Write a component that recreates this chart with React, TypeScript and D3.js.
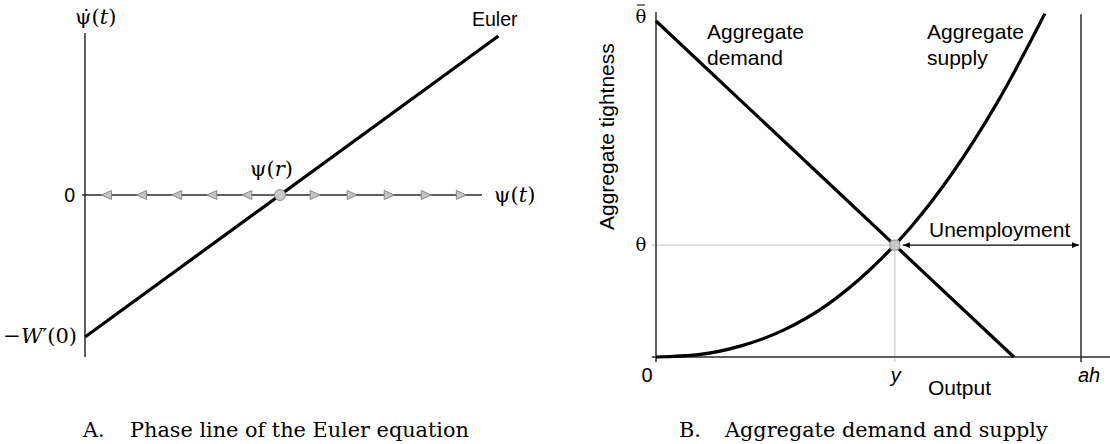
import React from "react";
import * as d3 from "d3";

// ---------- Panel A: phase line of the Euler equation ----------
// Euler line endpoints (ψ, ψ̇), in units where ψ(r) = 1 and W'(0) = 1
const eulerPsi = [0, 2.12];
const eulerPsiDot = [-1, 1.12];
const psiR = 1;
// Positions of the flow arrows along the phase line
const leftArrows = [0.11, 0.29, 0.47, 0.65, 0.83];
const rightArrows = [1.18, 1.37, 1.56, 1.75, 1.93];

// ---------- Panel B: aggregate demand and supply ----------
const capacity = 1; // ah
const outputEq = 0.562; // y
const tightEq = 0.333; // θ
const demandOutput = [0, 0.842];
const demandTight = [1, 0];
const supplyOutput = [0, 0.1, 0.2, 0.3, 0.4, 0.5, 0.6, 0.7, 0.8, 0.9, 0.915];
const supplyTight = [0, 0.007, 0.033, 0.08, 0.153, 0.256, 0.387, 0.552, 0.751, 0.985, 1.022];

const SANS = "'Liberation Sans', Arial, sans-serif";
const SERIF = "'DejaVu Serif', serif";
const AXIS = "#2a2a2a";

export default function App() {
  // Panel A scales
  const xA = d3.scaleLinear().domain([0, 2.036]).range([85, 482]);
  const yA = d3.scaleLinear().domain([-1, 1]).range([337, 53]);
  // Panel B scales
  const xB = d3.scaleLinear().domain([0, capacity]).range([656, 1081]);
  const yB = d3.scaleLinear().domain([0, 1]).range([357, 21]);

  const lineA = d3
    .line<number>()
    .x((_, i) => xA(eulerPsi[i]))
    .y((d) => yA(d));
  const demandLine = d3
    .line<number>()
    .x((_, i) => xB(demandOutput[i]))
    .y((d) => yB(d));
  const supplyLine = d3
    .line<number>()
    .x((_, i) => xB(supplyOutput[i]))
    .y((d) => yB(d))
    .curve(d3.curveMonotoneX);

  const y0 = yA(0);
  const tri = (cx: number, dir: number) =>
    `M${cx - 5 * dir},${y0} L${cx + 5 * dir},${y0 - 4.5} L${cx + 5 * dir},${y0 + 4.5} Z`;

  const eqX = xB(outputEq);
  const eqY = yB(tightEq);

  return (
    <svg
      width={1110}
      height={444}
      style={{ position: "absolute", left: 0, top: 0, background: "#fff" }}
    >
      <defs>
        <marker id="ah" viewBox="0 0 10 10" refX="10" refY="5" markerWidth="7" markerHeight="7" orient="auto-start-reverse" markerUnits="userSpaceOnUse">
          <path d="M0,1 L10,5 L0,9 Z" fill="#000" />
        </marker>
      </defs>

      {/* ===== Panel A ===== */}
      <line x1={xA(0)} x2={xA(0)} y1={yA(1.14)} y2={yA(-1.14)} stroke={AXIS} strokeWidth={1.5} />
      <line x1={xA(-0.015)} x2={xA(2.036)} y1={y0} y2={y0} stroke={AXIS} strokeWidth={1.3} />
      {leftArrows.map((p, i) => (
        <path key={"l" + i} d={tri(xA(p), 1)} fill="#c4c4c4" stroke="#8a8a8a" strokeWidth={1} />
      ))}
      {rightArrows.map((p, i) => (
        <path key={"r" + i} d={tri(xA(p), -1)} fill="#c4c4c4" stroke="#8a8a8a" strokeWidth={1} />
      ))}
      <path d={lineA(eulerPsiDot) || ""} fill="none" stroke="#000" strokeWidth={3.2} />
      <circle cx={xA(psiR)} cy={y0} r={5.5} fill="#c8c8c8" stroke="#8a8a8a" strokeWidth={1} />

      <text x={75} y={24} fontFamily={SERIF} fontSize={21}>
        {"ψ\u0307("}
        <tspan fontStyle="italic">t</tspan>
        {")"}
      </text>
      <text x={472} y={26} fontFamily={SANS} fontSize={19.5}>Euler</text>
      <text x={xA(psiR) - 30} y={176} fontFamily={SERIF} fontSize={21}>
        {"ψ("}
        <tspan fontStyle="italic">r</tspan>
        {")"}
      </text>
      <text x={494} y={202} fontFamily={SERIF} fontSize={21}>
        {"ψ("}
        <tspan fontStyle="italic">t</tspan>
        {")"}
      </text>
      <text x={75} y={y0 + 7} fontFamily={SANS} fontSize={19.5} textAnchor="end">0</text>
      <text x={77} y={yA(-1) + 6} fontFamily={SERIF} fontSize={21} textAnchor="end">
        {"−"}
        <tspan fontStyle="italic">W</tspan>
        {"′(0)"}
      </text>

      <text x={83} y={437} fontFamily={SERIF} fontSize={20.8}>A.</text>
      <text x={130} y={437} fontFamily={SERIF} fontSize={20.8}>Phase line of the Euler equation</text>

      {/* ===== Panel B ===== */}
      {/* guides to the equilibrium */}
      <line x1={xB(-0.01)} x2={eqX} y1={eqY} y2={eqY} stroke="#cfcfcf" strokeWidth={1.3} />
      <line x1={eqX} x2={eqX} y1={eqY} y2={yB(-0.015)} stroke="#cfcfcf" strokeWidth={1.3} />
      {/* axes */}
      <line x1={xB(0)} x2={xB(0)} y1={yB(1.027)} y2={yB(-0.015)} stroke={AXIS} strokeWidth={1.5} />
      <line x1={xB(-0.01)} x2={1110} y1={yB(0)} y2={yB(0)} stroke={AXIS} strokeWidth={1.5} />
      <line x1={xB(capacity)} x2={xB(capacity)} y1={yB(1.02)} y2={yB(-0.015)} stroke={AXIS} strokeWidth={1.5} />

      <path d={demandLine(demandTight) || ""} fill="none" stroke="#000" strokeWidth={3.2} />
      <path d={supplyLine(supplyTight) || ""} fill="none" stroke="#000" strokeWidth={3.2} />

      <line
        x1={eqX + 8}
        x2={xB(capacity) - 2}
        y1={eqY}
        y2={eqY}
        stroke="#000"
        strokeWidth={1.2}
        markerStart="url(#ah)"
        markerEnd="url(#ah)"
      />
      <rect x={eqX - 5} y={eqY - 5} width={10} height={10} rx={3.5} fill="#c8c8c8" stroke="#8a8a8a" strokeWidth={1} />

      <text x={929} y={237} fontFamily={SANS} fontSize={21}>Unemployment</text>
      <text x={707} y={39} fontFamily={SANS} fontSize={21}>Aggregate</text>
      <text x={707} y={65} fontFamily={SANS} fontSize={21}>demand</text>
      <text x={927} y={39} fontFamily={SANS} fontSize={21}>Aggregate</text>
      <text x={927} y={65} fontFamily={SANS} fontSize={21}>supply</text>

      <text x={641} y={23} fontFamily={SERIF} fontSize={18} textAnchor="middle">θ</text>
      <line x1={637} x2={645} y1={5} y2={5} stroke="#000" strokeWidth={1} />
      <text x={641} y={eqY + 6} fontFamily={SERIF} fontSize={18} textAnchor="middle">θ</text>
      <text x={647} y={382} fontFamily={SANS} fontSize={20} textAnchor="middle">0</text>
      <text x={eqX + 1} y={382} fontFamily={SANS} fontSize={20} fontStyle="italic" textAnchor="middle">y</text>
      <text x={xB(capacity) + 8} y={382} fontFamily={SANS} fontSize={20} fontStyle="italic" textAnchor="middle">ah</text>
      <text x={928} y={395} fontFamily={SANS} fontSize={21}>Output</text>
      <text
        transform={`translate(614,230) rotate(-90)`}
        fontFamily={SANS}
        fontSize={21}
      >
        Aggregate tightness
      </text>

      <text x={679} y={437} fontFamily={SERIF} fontSize={20.8}>B.</text>
      <text x={725} y={437} fontFamily={SERIF} fontSize={20.8}>Aggregate demand and supply</text>
    </svg>
  );
}
